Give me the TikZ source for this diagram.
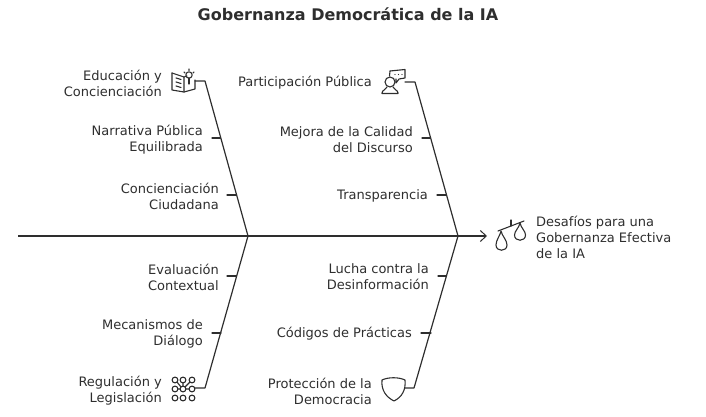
\documentclass[tikz,border=0pt]{standalone}
\usepackage{fontspec}
\setmainfont{DejaVu Sans}
\usetikzlibrary{arrows.meta}
\definecolor{ink}{HTML}{2E2E2E}
\tikzset{
  lbl/.style={anchor=east,align=right,text=ink,font=\fontsize{13}{16}\selectfont,inner sep=0pt,yshift=-1pt},
  lblL/.style={anchor=west,align=left,text=ink,font=\fontsize{13}{16}\selectfont,inner sep=0pt,yshift=-1pt},
  ttl/.style={text=ink,font=\bfseries\fontsize{16}{18}\selectfont,inner sep=0pt},
  bone/.style={draw=ink,line width=1.2pt,line join=round,line cap=round},
  icon/.style={draw=ink,line width=1.1pt,line join=round,line cap=round,fill=none},
  spine/.style={draw=ink,line width=1.3pt,-{Straight Barb[length=6pt,width=11pt,line width=1pt]}}
}
\begin{document}
\begin{tikzpicture}[x=1pt,y=-1pt]
\useasboundingbox (0,0) rectangle (706,417);
\node[ttl] (title) at (348,14) {Gobernanza Democrática de la IA};

% spine and joints
\coordinate (tail) at (18,236);
\coordinate (head) at (487,236);
\coordinate (jl) at (248,236);
\coordinate (jr) at (458,236);
\draw[spine] (tail) -- (head);

% bone corners and icon ends
\coordinate (tlc) at (205,81); \coordinate (tls) at (195,81);
\coordinate (trc) at (415,82); \coordinate (trs) at (405,82);
\coordinate (blc) at (205,388); \coordinate (bls) at (195,388);
\coordinate (brc) at (414,388); \coordinate (brs) at (405,388);
\draw[bone] (tls) -- (tlc) -- (jl);
\draw[bone] (trs) -- (trc) -- (jr);
\draw[bone] (bls) -- (blc) -- (jl);
\draw[bone] (brs) -- (brc) -- (jr);

% labels
\node[lbl] (a1) at (162,82) {Educación y\\Concienciación};
\node[lbl] (a2) at (203,139) {Narrativa Pública\\Equilibrada};
\node[lbl] (a3) at (219,195) {Concienciación\\Ciudadana};
\node[lbl] (b1) at (372,82) {Participación Pública};
\node[lbl] (b2) at (413,139) {Mejora de la Calidad\\del Discurso};
\node[lbl] (b3) at (428,195) {Transparencia};
\node[lbl] (c1) at (219,276) {Evaluación\\Contextual};
\node[lbl] (c2) at (203,333) {Mecanismos de\\Diálogo};
\node[lbl] (c3) at (162,390) {Regulación y\\Legislación};
\node[lbl] (d1) at (429,276) {Lucha contra la\\Desinformación};
\node[lbl] (d2) at (412,333) {Códigos de Prácticas};
\node[lbl] (d3) at (372,390) {Protección de la\\Democracia};
\node[lblL] (goal) at (536,236) {Desafíos para una\\Gobernanza Efectiva\\de la IA};

% ribs
\coordinate (ja2) at (220.5,138); \coordinate (ja3) at (236,195);
\coordinate (jb2) at (430.5,138); \coordinate (jb3) at (446,195);
\coordinate (jc1) at (236.5,276); \coordinate (jc2) at (221,333);
\coordinate (jd1) at (446.5,276); \coordinate (jd2) at (431,333);
\draw[bone] ([xshift=9pt]a2.east |- ja2) -- (ja2);
\draw[bone] ([xshift=8pt]a3.east |- ja3) -- (ja3);
\draw[bone] ([xshift=9pt]b2.east |- jb2) -- (jb2);
\draw[bone] ([xshift=9pt]b3.east |- jb3) -- (jb3);
\draw[bone] ([xshift=8pt]c1.east |- jc1) -- (jc1);
\draw[bone] ([xshift=9pt]c2.east |- jc2) -- (jc2);
\draw[bone] ([xshift=9pt]d1.east |- jd1) -- (jd1);
\draw[bone] ([xshift=9pt]d2.east |- jd2) -- (jd2);

% book and bulb icon
\draw[icon] (172,73) -- (172,90) -- (184,92) -- (195,89) -- (195,80);
\draw[icon] (172,73) -- (184,77) -- (184,92);
\draw[icon] (184,77) -- (187,76);
\draw[icon] (176,78) -- (181,79.5) (176,82) -- (181,83.5) (176,86) -- (181,87.5);
\draw[icon] (189,75) circle (3.2);
\draw[icon] (189,78) -- (189,84);
\draw[icon] (184,72) -- (185,73) (189,69) -- (189,70.5) (194,72) -- (193,73);

% person and speech icon
\draw[icon] (390,71) -- (405,69.5) -- (405,78) -- (399,79) -- (396,83) -- (396,79);
\draw[icon] (390,71) -- (389.5,76);
\fill[ink] (395,74.5) circle (0.7) (398.5,74.5) circle (0.7) (402,74.5) circle (0.7);
\draw[icon] (390,82) circle (5);
\draw[icon] (387,87) .. controls (386,90) and (382,90) .. (382,93) -- (382,93.5) -- (398,93.5) -- (398,93) .. controls (398,90) and (394,90) .. (393,87);

% scales icon
\draw[icon] (498,231) -- (524,221);
\draw[icon] (511,220) -- (511,226);
\draw[icon] (501,231) .. controls (502,236) and (507,240) .. (507,245) .. controls (507,252) and (496,252) .. (496,245) .. controls (496,240) and (500,236) .. (501,231);
\draw[icon] (520,223) .. controls (521,228) and (525.5,231) .. (525.5,235) .. controls (525.5,242) and (514.5,242) .. (514.5,235) .. controls (514.5,231) and (519,228) .. (520,223);

% network icon
\foreach \x/\y/\n in {175/380/p1,183/380/p2,192/380/p3,175/389/p4,183/389/p5,192/389/p6,175/398/p7,183/398/p8,192/398/p9}
  \draw[icon] (\x,\y) circle (2.9);
\draw[icon] (177,382) -- (181,387) (183,383) -- (183,386) (190,382) -- (185,387) (178,389) -- (180,389) (186,389) -- (189,389);

% shield icon
\draw[icon] (382,380) .. controls (388,377) and (399,377) .. (405,380) .. controls (406,390) and (402,397) .. (394,401) .. controls (386,397) and (381,390) .. (382,380) -- cycle;
\end{tikzpicture}
\end{document}
